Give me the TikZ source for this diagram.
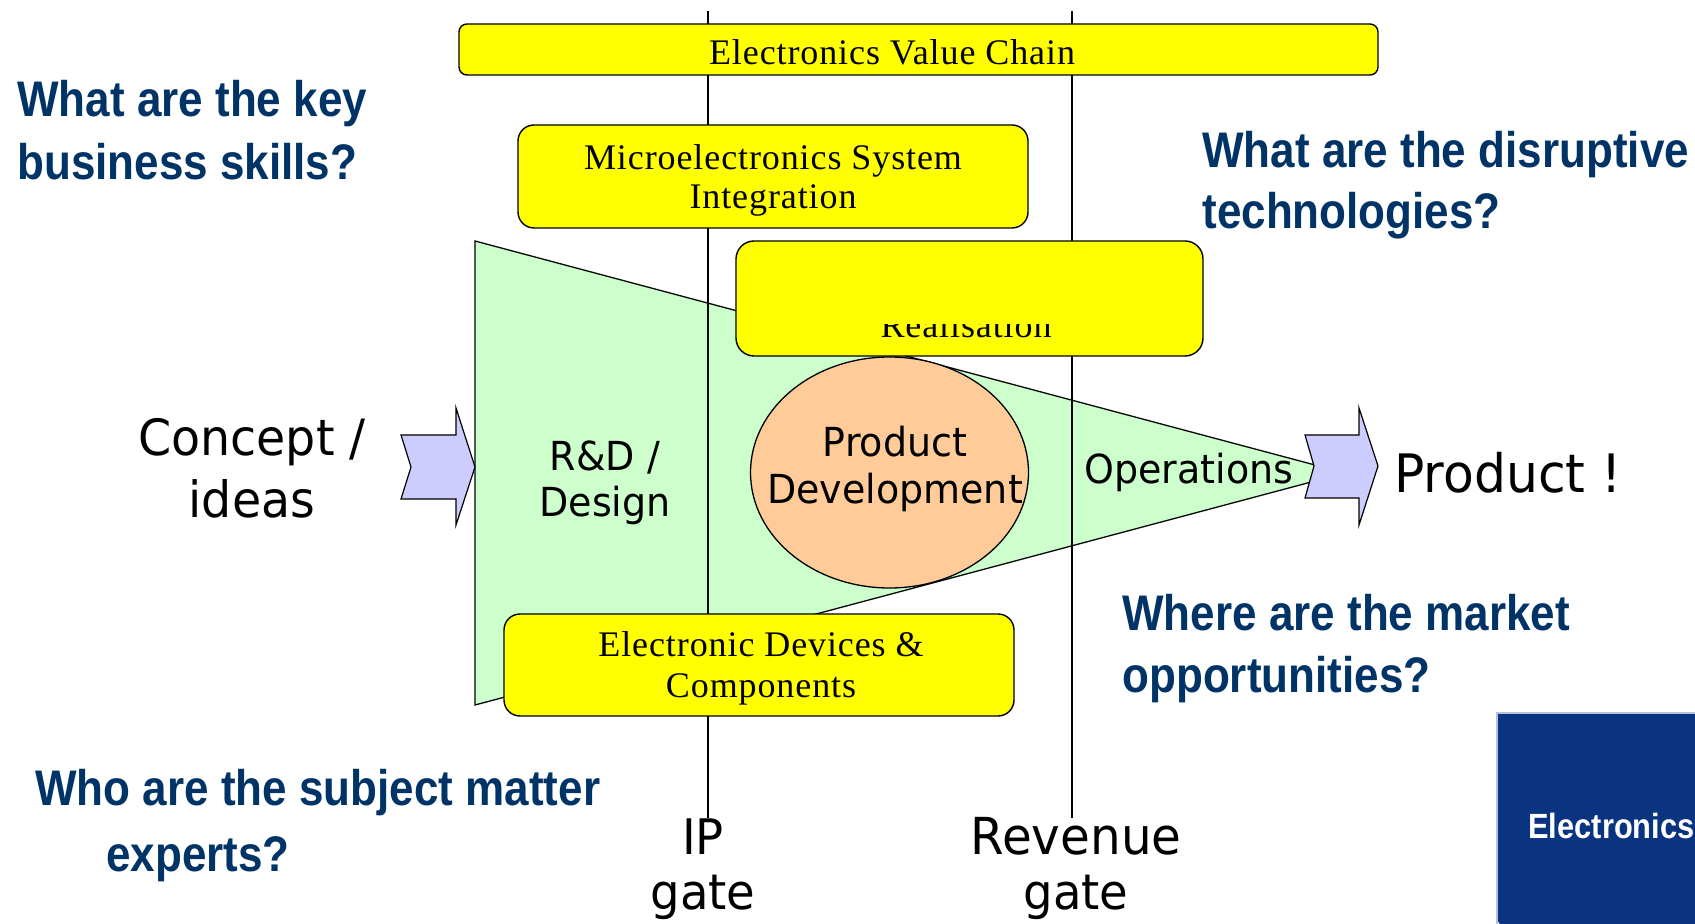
\documentclass[tikz,border=0pt]{standalone}
\usepackage{fontspec}
\setmainfont{Liberation Serif}
\newfontfamily\qfont[FakeStretch=0.88]{Liberation Sans}
\newfontfamily\dfont[FakeStretch=0.95]{DejaVu Sans}
\newfontfamily\bxfont[LetterSpace=2.5]{Liberation Serif}
\definecolor{qblue}{RGB}{0,51,102}
\definecolor{pgreen}{RGB}{204,255,204}
\definecolor{peach}{RGB}{255,204,153}
\definecolor{lav}{RGB}{204,204,255}
\definecolor{navyb}{RGB}{10,52,128}
\definecolor{ybright}{RGB}{255,255,0}
\tikzset{
  ybox/.style={draw=black, fill=ybright, line width=0.7pt},
  gate/.style={draw=black, line width=0.75pt},
  question/.style={anchor=base west, inner sep=0pt, text=qblue, font=\qfont\bfseries\fontsize{25pt}{30pt}\selectfont},
  boxtext/.style={anchor=base, inner sep=0pt, font=\bxfont\fontsize{18pt}{21pt}\selectfont},
  bigsans/.style={anchor=base, inner sep=0pt, font=\dfont\fontsize{25pt}{30pt}\selectfont},
  midsans/.style={anchor=base, inner sep=0pt, font=\dfont\fontsize{20pt}{24pt}\selectfont},
  blockarrow/.style={draw=black, fill=lav, line width=0.6pt, line join=miter},
}
\begin{document}
\begin{tikzpicture}[x=0.5pt,y=-0.5pt]
\useasboundingbox (0,0) rectangle (1695,924);
\fill[white] (0,0) rectangle (1695,924);

% green funnel
\draw[fill=pgreen, line width=0.65pt] (475,241) -- (1345,473) -- (475,705) -- cycle;

% gate lines
\draw[gate] (708,11) -- (708,818);
\draw[gate] (1072,11) -- (1072,818);

% yellow boxes
\draw[ybox, rounded corners=4pt] (459,24) rectangle (1378,75);
\draw[ybox, rounded corners=8pt] (518,125) rectangle (1028,228);
\draw[ybox, rounded corners=9pt] (736,241) rectangle (1203,356);
\draw[ybox, rounded corners=8pt] (504,614) rectangle (1014,716);

\node[boxtext] (evc) at (892,65) {Electronics Value Chain};
\node[boxtext] (msi1) at (773,170) {Microelectronics System};
\node[boxtext] (msi2) at (773,209) {Integration};
\begin{scope}
  \clip (738,325) rectangle (1201,355);
  \node[boxtext] (real) at (966,338) {Realisation};
\end{scope}
\node[boxtext] (edc1) at (761,656) {Electronic Devices \&};
\node[boxtext] (edc2) at (761,697) {Components};

% ellipse
\draw[fill=peach, line width=0.65pt] (889.5,472.5) ellipse [x radius=69.5pt, y radius=57.75pt];

% block arrows
\draw[blockarrow] (401,435) -- (456,435) -- (456,408) -- (475,467) -- (456,525) -- (456,499) -- (401,499) -- (411,467) -- cycle;
\draw[blockarrow] (1305,435) -- (1359,435) -- (1359,408) -- (1378,466) -- (1359,525) -- (1359,498) -- (1305,498) -- (1314,466) -- cycle;

% sans labels
\node[bigsans] (c1) at (252,456) {Concept /};
\node[bigsans] (c2) at (252,517) {ideas};
\node[midsans] (rd1) at (605,471) {R\&D /};
\node[midsans] (rd2) at (605,516) {Design};
\node[midsans] (pd1) at (895,457) {Product};
\node[midsans] (pd2) at (895,503) {Development};
\node[midsans] (ops) at (1189,483) {Operations};
\node[bigsans, anchor=base west, font=\dfont\fontsize{26.5pt}{30pt}\selectfont] (prod) at (1394,492) {Product !};
\node[bigsans, font=\dfont\fontsize{24.5pt}{30pt}\selectfont] (ip1) at (703,854) {IP};
\node[bigsans, font=\dfont\fontsize{24.5pt}{30pt}\selectfont] (ip2) at (703,909) {gate};
\node[bigsans, font=\dfont\fontsize{25.5pt}{30pt}\selectfont] (rv1) at (1076,854) {Revenue};
\node[bigsans, font=\dfont\fontsize{24.5pt}{30pt}\selectfont] (rv2) at (1076,909) {gate};

% questions
\node[question] (q1a) at (17,117) {What are the key};
\node[question] (q1b) at (17,180) {business skills?};
\node[question] (q2a) at (1202,168) {What are the disruptive};
\node[question] (q2b) at (1202,229) {technologies?};
\node[question] (q3a) at (1122,630) {Where are the market};
\node[question] (q3b) at (1122,692) {opportunities?};
\node[question] (q4a) at (35,805) {Who are the subject matter};
\node[question] (q4b) at (106,871) {experts?};

% Electronics panel
\fill[navyb] (1497,713) -- (1700,713) -- (1700,930) -- (1504,930) -- (1497,920) -- cycle;
\draw[white!70!navyb, line width=0.6pt] (1497,924) -- (1497,713) -- (1695,713);
\node[anchor=base west, inner sep=0pt, text=white, font=\qfont\bfseries\fontsize{17.5pt}{21pt}\selectfont] (elec) at (1528,838) {Electronics};
\end{tikzpicture}
\end{document}
